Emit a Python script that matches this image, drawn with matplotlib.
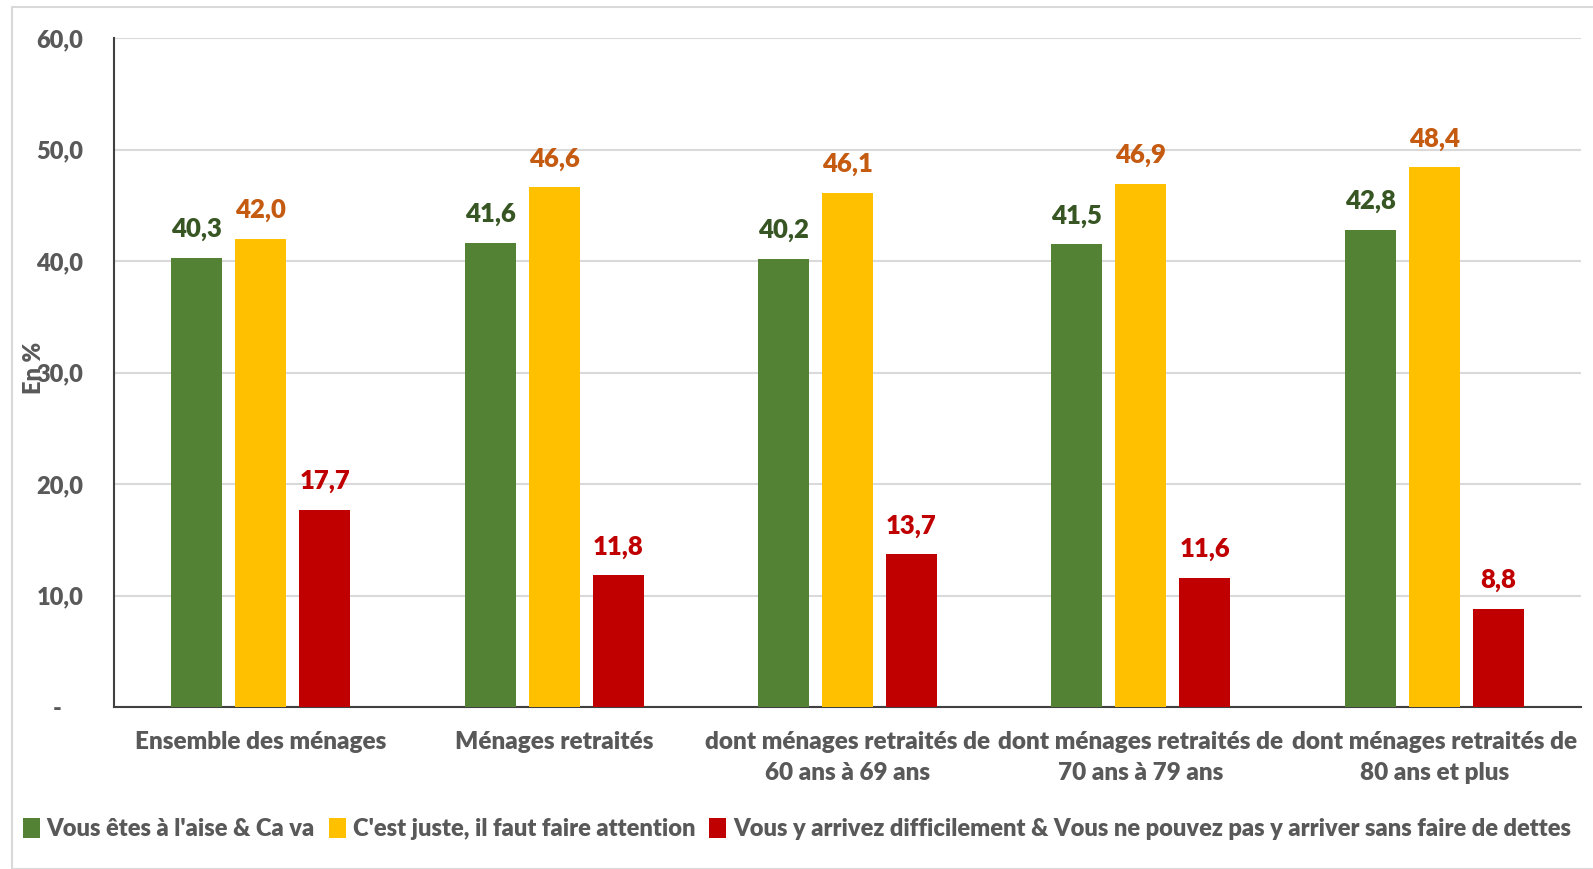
import matplotlib
matplotlib.use("Agg")
import matplotlib.pyplot as plt
import numpy as np
from matplotlib.patches import Rectangle

categories = ["Ensemble des ménages", "Ménages retraités",
              "dont ménages retraités de\n60 ans à 69 ans",
              "dont ménages retraités de\n70 ans à 79 ans",
              "dont ménages retraités de\n80 ans et plus"]
series_names = ["Vous êtes à l'aise & Ca va",
                "C'est juste, il faut faire attention",
                "Vous y arrivez difficilement & Vous ne pouvez pas y arriver sans faire de dettes"]
aise = [40.3, 41.6, 40.2, 41.5, 42.8]
juste = [42.0, 46.6, 46.1, 46.9, 48.4]
difficile = [17.7, 11.8, 13.7, 11.6, 8.8]
yticks = [0, 10, 20, 30, 40, 50, 60]
ytick_labels = ["-    ", "10,0", "20,0", "30,0", "40,0", "50,0", "60,0"]

bar_colors = ["#548235", "#FFC000", "#C00000"]
label_colors = ["#375623", "#C55A11", "#C00000"]

plt.rcParams['font.family'] = ['Lato', 'DejaVu Sans']
plt.rcParams['font.weight'] = 'heavy'
WT = 'heavy'

W, H = 1593, 869
fig = plt.figure(figsize=(W/100, H/100), dpi=100)
ax = fig.add_axes([114/W, 1-707/H, (1581-114)/W, (707-38)/H])

x = np.arange(len(categories))
width = 0.174
offset = 0.218
for i, (vals, col, lcol, name) in enumerate(zip([aise, juste, difficile], bar_colors, label_colors, series_names)):
    bars = ax.bar(x + (i-1)*offset, vals, width, color=col, label=name, zorder=3)
    for b, v in zip(bars, vals):
        ax.text(b.get_x()+b.get_width()/2, v+1.5, f"{v:.1f}".replace(".", ","),
                ha="center", va="bottom", color=lcol, fontsize=18.5, fontweight=WT)

ax.set_xlim(-0.5, len(categories)-0.5)
ax.set_ylim(0, 60)
ax.set_yticks(yticks)
ax.set_yticklabels(ytick_labels, fontweight=WT)
ax.set_xticks(x)
ax.set_xticklabels(categories, fontweight=WT, linespacing=1.5)
ax.tick_params(axis='y', length=0, pad=22, labelsize=17, labelcolor="#595959")
ax.tick_params(axis='x', length=0, pad=17, labelsize=17.5, labelcolor="#595959")
ax.yaxis.grid(True, color="#D9D9D9", linewidth=1.5, zorder=0)
ax.set_axisbelow(True)
for s in ["top", "right"]:
    ax.spines[s].set_visible(False)
for s in ["left", "bottom"]:
    ax.spines[s].set_color("#404040")
    ax.spines[s].set_linewidth(1.5)

fig.text(34/W, 1-368/H, "En %", rotation=90, ha="center", va="center",
         fontsize=17, fontweight=WT, color="#595959")

leg = fig.legend(loc="center", bbox_to_anchor=(797/W, 1-829/H), ncol=3, frameon=False,
                 prop={'size': 17, 'weight': WT}, handlelength=0.7, handleheight=0.9,
                 handletextpad=0.3, columnspacing=0.6)
for t in leg.get_texts():
    t.set_color("#595959")

fig.patches.append(Rectangle((12/W, 0), 1.2, 1-7/H, transform=fig.transFigure,
                             fill=False, edgecolor="#D9D9D9", linewidth=1.5))

fig.savefig("out.png", dpi=100)
